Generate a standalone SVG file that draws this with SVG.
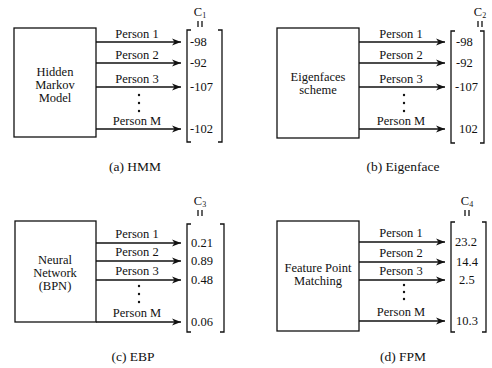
<svg xmlns="http://www.w3.org/2000/svg" width="492" height="368" viewBox="0 0 492 368" font-family="Liberation Serif, serif">
<style>
text{fill:#111}
.lbl{font-size:12.5px;text-anchor:middle}
.box{font-size:12.5px;text-anchor:middle}
.val{font-size:12.5px}
.cap{font-size:13.5px;text-anchor:middle}
.cn{font-size:12.5px;text-anchor:middle}
.sub{font-size:8px}
.bx{fill:#fff;stroke:#111;stroke-width:1.3}
.ar{stroke:#111;stroke-width:1.3;fill:none;marker-end:url(#ah)}
.br{stroke:#111;stroke-width:1.3;fill:none}
.dot{fill:#111}
</style>
<defs>
<marker id="ah" markerUnits="userSpaceOnUse" markerWidth="10" markerHeight="8" refX="9" refY="4" orient="auto">
<path d="M0,0.5 L9,4 L0,7.5 L2.5,4 z" fill="#111"/>
</marker>
</defs>
<rect width="492" height="368" fill="#fff"/>

<g id="hmm">
<rect class="bx" x="14" y="28" width="82" height="109"/>
<text class="box" x="55" y="76">Hidden</text>
<text class="box" x="55" y="89">Markov</text>
<text class="box" x="55" y="102">Model</text>
</g>
<g id="c1">
<path class="br" d="M191,30 H187 V142 H191 M218,30 H222 V142 H218"/>
<text class="val" x="190" y="46">-98</text>
<text class="val" x="190" y="67">-92</text>
<text class="val" x="190" y="91">-107</text>
<text class="val" x="190" y="133">-102</text>
<text class="cn" x="200" y="16">C<tspan class="sub" dy="2">1</tspan></text>
<path class="br" d="M198,21 V27 M202,21 V27" stroke-width="1"/>
</g>
<g id="eigen">
<rect class="bx" x="277" y="28" width="82" height="110"/>
<text class="box" x="318" y="81">Eigenfaces</text>
<text class="box" x="318" y="94">scheme</text>
</g>
<g id="c2">
<path class="br" d="M455,31 H451 V143 H455 M480,31 H484 V143 H480"/>
<text class="val" x="456" y="46">-98</text>
<text class="val" x="456" y="67">-92</text>
<text class="val" x="455" y="91">-107</text>
<text class="val" x="459" y="133">102</text>
<text class="cn" x="480" y="16">C<tspan class="sub" dy="2">2</tspan></text>
<path class="br" d="M478,21 V27 M482,21 V27" stroke-width="1"/>
</g>
<g id="bpn">
<rect class="bx" x="15" y="221" width="81" height="101"/>
<text class="box" x="55" y="264">Neural</text>
<text class="box" x="55" y="277">Network</text>
<text class="box" x="55" y="290">(BPN)</text>
</g>
<g id="c3">
<path class="br" d="M191,224 H187 V332 H191 M220,224 H224 V332 H220"/>
<text class="val" x="191" y="247">0.21</text>
<text class="val" x="191" y="265">0.89</text>
<text class="val" x="191" y="284">0.48</text>
<text class="val" x="191" y="326">0.06</text>
<text class="cn" x="200" y="205">C<tspan class="sub" dy="2">3</tspan></text>
<path class="br" d="M198,210 V216 M202,210 V216" stroke-width="1"/>
</g>
<g id="fpm">
<rect class="bx" x="277" y="221" width="82" height="110"/>
<text class="box" x="318" y="272">Feature Point</text>
<text class="box" x="318" y="285">Matching</text>
</g>
<g id="c4">
<path class="br" d="M455,222 H451 V332 H455 M482,222 H486 V332 H482"/>
<text class="val" x="455" y="246">23.2</text>
<text class="val" x="456" y="266">14.4</text>
<text class="val" x="459" y="284">2.5</text>
<text class="val" x="456" y="325">10.3</text>
<text class="cn" x="467" y="205">C<tspan class="sub" dy="2">4</tspan></text>
<path class="br" d="M465,210 V216 M469,210 V216" stroke-width="1"/>
</g>

<g id="connectors">
<line class="ar" x1="96" y1="42" x2="181" y2="42"/>
<line class="ar" x1="96" y1="63" x2="181" y2="63"/>
<line class="ar" x1="96" y1="87" x2="181" y2="87"/>
<line class="ar" x1="96" y1="129" x2="181" y2="129"/>
<text class="lbl" x="137" y="38">Person 1</text>
<text class="lbl" x="137" y="59">Person 2</text>
<text class="lbl" x="137" y="83">Person 3</text>
<text class="lbl" x="137" y="125">Person M</text>
<circle class="dot" cx="139" cy="95" r="1.2"/><circle class="dot" cx="139" cy="103" r="1.2"/><circle class="dot" cx="139" cy="111" r="1.2"/>

<line class="ar" x1="359" y1="42" x2="445" y2="42"/>
<line class="ar" x1="359" y1="63" x2="445" y2="63"/>
<line class="ar" x1="359" y1="87" x2="445" y2="87"/>
<line class="ar" x1="359" y1="129" x2="445" y2="129"/>
<text class="lbl" x="401" y="38">Person 1</text>
<text class="lbl" x="401" y="59">Person 2</text>
<text class="lbl" x="401" y="83">Person 3</text>
<text class="lbl" x="401" y="125">Person M</text>
<circle class="dot" cx="404" cy="95" r="1.2"/><circle class="dot" cx="404" cy="103" r="1.2"/><circle class="dot" cx="404" cy="111" r="1.2"/>

<line class="ar" x1="96" y1="243" x2="181" y2="243"/>
<line class="ar" x1="96" y1="261" x2="181" y2="261"/>
<line class="ar" x1="96" y1="280" x2="181" y2="280"/>
<line class="ar" x1="96" y1="322" x2="181" y2="322"/>
<text class="lbl" x="137" y="238">Person 1</text>
<text class="lbl" x="137" y="256">Person 2</text>
<text class="lbl" x="137" y="275">Person 3</text>
<text class="lbl" x="137" y="317">Person M</text>
<circle class="dot" cx="139" cy="286" r="1.2"/><circle class="dot" cx="139" cy="294" r="1.2"/><circle class="dot" cx="139" cy="302" r="1.2"/>

<line class="ar" x1="359" y1="242" x2="445" y2="242"/>
<line class="ar" x1="359" y1="262" x2="445" y2="262"/>
<line class="ar" x1="359" y1="280" x2="445" y2="280"/>
<line class="ar" x1="359" y1="321" x2="445" y2="321"/>
<text class="lbl" x="401" y="237">Person 1</text>
<text class="lbl" x="401" y="257">Person 2</text>
<text class="lbl" x="401" y="275">Person 3</text>
<text class="lbl" x="401" y="316">Person M</text>
<circle class="dot" cx="404" cy="285" r="1.2"/><circle class="dot" cx="404" cy="292" r="1.2"/><circle class="dot" cx="404" cy="299" r="1.2"/>
</g>

<text class="cap" x="135" y="171">(a) HMM</text>
<text class="cap" x="403" y="171">(b) Eigenface</text>
<text class="cap" x="133" y="361">(c) EBP</text>
<text class="cap" x="403" y="361">(d) FPM</text>
</svg>
